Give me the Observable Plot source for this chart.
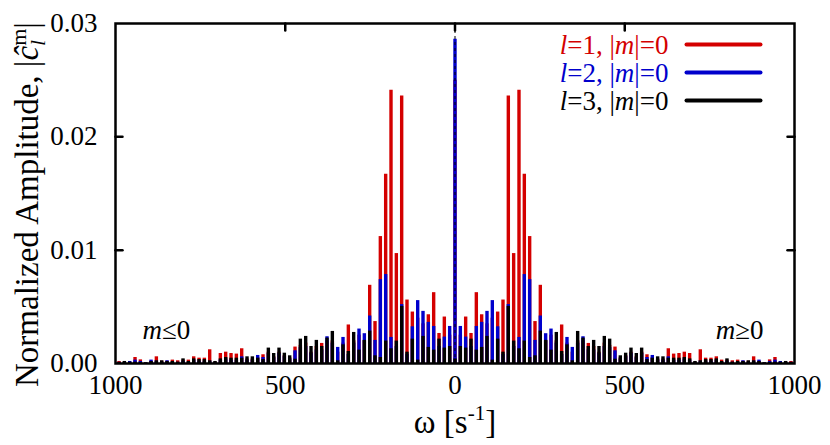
<!DOCTYPE html>
<html><head><meta charset="utf-8">
<script src="https://cdn.jsdelivr.net/npm/d3@7"></script>
<script src="https://cdn.jsdelivr.net/npm/@observablehq/plot@0.6"></script>
<style>body{margin:0;background:#fff;}</style>
</head><body><div id="chart"></div>
<script>
// frequency spacing of the modes: 2π × 2.5 Hz
const omegaStep = 15.708;
// values for m = 0 .. 63 (m >= 0 side)
const l1_pos = [0.025,0.0025,0.0041,0.00265,0.00625,0.0043,0.0035,0.004,0.00454,0.0056,0.0236,0.0097,0.0241,0.0167,0.0112,0.0037,0.0069,0.002,0.0025,0.002,0.0034,0.0018,0.001,0.002,0.002,0.00177,0.0015,0.001,0.0018,0.0016,0.00145,0.0005,0.0007,0.001,0.0006,0.001,0.00077,0.0005,0.0004,0.0004,0.0013,0.00083,0.00088,0.001,0.00088,0.00012,0.00121,0.00047,0.00047,0.00059,0.0003,0.0003,0.00024,0.0003,0.0002,0.0002,0.00059,0.0002,0.00005,0.00032,0.00053,0.0001,0.0001,0.00018];
const l2_pos = [0.0286,0.00327,0.00233,0.0015,0.00327,0.00363,0.0046,0.00555,0.00324,0.0008,0.0052,0.0015,0.0023,0.00785,0.0074,0.00204,0.00419,0.00263,0.00304,0.0018,0.0008,0.0023,0.00142,0.0018,0.00236,0.0012,0.0012,0.0009,0.0015,0.0014,0.00112,0.0004,0.0006,0.0009,0.0005,0.0009,0.00053,0.00071,0.0003,0.0003,0.00059,0.0003,0.0003,0.0004,0.0003,0.0001,0.0002,0.0002,0.0002,0.0003,0.0001,0.0002,0.0001,0.0001,0.00024,0.0001,0.0002,0.0003,0.00004,0.00018,0.0003,0.00018,0.0001,0.0001];
const l3_pos = [0.0004,0.0015,0.00136,0.00215,0.00118,0.00142,0.00239,0.0003,0.00215,0.001,0.00504,0.00198,0.0013,0.00198,0.00053,0.00068,0.00286,0.00204,0.00118,0.00274,0.00106,0.00165,0.00024,0.00283,0.00224,0.0015,0.00204,0.0015,0.00239,0.00215,0.00038,0.00068,0.00091,0.00136,0.00088,0.00136,0.00035,0.00047,0.00059,0.00059,0.00047,0.00047,0.00047,0.00053,0.00041,0.00018,0.00024,0.00035,0.00035,0.00041,0.00018,0.00041,0.00012,0.00018,0.00018,0.00024,0.00024,0.00018,0.00006,0.0001,0.00012,0.00012,0.00018,0.0001];
// values for m = -1 .. -63 (m <= 0 side), listed by increasing |m|
const l1_neg = [0.0025,0.0041,0.00265,0.00625,0.0043,0.0035,0.004,0.00454,0.0056,0.0236,0.0097,0.0241,0.0167,0.0112,0.0037,0.0069,0.002,0.0025,0.002,0.0034,0.0018,0.001,0.002,0.002,0.00177,0.0015,0.001,0.0018,0.0016,0.00145,0.0005,0.0007,0.001,0.0006,0.001,0.00077,0.0005,0.0004,0.0004,0.0013,0.00083,0.00088,0.001,0.00088,0.00012,0.00121,0.00047,0.00047,0.00059,0.0003,0.0003,0.00024,0.0003,0.0002,0.0002,0.00059,0.0002,0.00005,0.00032,0.00053,0.0001,0.0001,0.00018];
const l2_neg = [0.00327,0.00233,0.0015,0.00327,0.00363,0.0046,0.00555,0.00324,0.0008,0.0052,0.0015,0.0023,0.00785,0.0074,0.00204,0.00419,0.00263,0.00304,0.0018,0.0008,0.0023,0.00142,0.0018,0.00236,0.0012,0.0012,0.0009,0.0015,0.0014,0.00112,0.0004,0.0006,0.0009,0.0005,0.0009,0.00053,0.00071,0.0003,0.0003,0.00059,0.0003,0.0003,0.0004,0.0003,0.0001,0.0002,0.0002,0.0002,0.0003,0.0001,0.0002,0.0001,0.0001,0.00024,0.0001,0.0002,0.0003,0.00004,0.00018,0.0003,0.00018,0.0001,0.0001];
const l3_neg = [0.0015,0.00136,0.00215,0.00118,0.00142,0.00239,0.0003,0.00215,0.001,0.00504,0.00198,0.0013,0.00198,0.00053,0.00068,0.00286,0.00204,0.00118,0.00274,0.00106,0.00165,0.00024,0.00283,0.00224,0.0015,0.00204,0.0015,0.00239,0.00215,0.00038,0.00068,0.00091,0.00136,0.00088,0.00136,0.00035,0.00047,0.00059,0.00059,0.00047,0.00047,0.00047,0.00053,0.00041,0.00018,0.00024,0.00035,0.00035,0.00041,0.00018,0.00041,0.00012,0.00018,0.00018,0.00024,0.00024,0.00018,0.00006,0.0001,0.00012,0.00012,0.00018,0.0001];

const seriesNames = ["l=1, |m|=0", "l=2, |m|=0", "l=3, |m|=0"];
const seriesColors = ["#d40000", "#0000cc", "#000000"];
const xTicks = [-1000, -500, 0, 500, 1000];
const xTickLabels = ["1000", "500", "0", "500", "1000"];
const xInnerTicks = [-500, 0, 500];
const yTicks = [0, 0.01, 0.02, 0.03];
const yTickLabels = ["0.00", "0.01", "0.02", "0.03"];
const yInnerTicks = [0.01, 0.02];

function rowsOf(pos, neg) {
  const rows = [];
  pos.forEach((v, i) => rows.push({m: i, omega: i * omegaStep, v}));
  neg.forEach((v, i) => rows.push({m: -(i + 1), omega: -(i + 1) * omegaStep, v}));
  return rows;
}
const data = [rowsOf(l1_pos, l1_neg), rowsOf(l2_pos, l2_neg), rowsOf(l3_pos, l3_neg)];

const font = "'Liberation Serif', 'Times New Roman', serif";
const hline = {draw(context, l) { context.moveTo(0, 0); context.lineTo(0, -l); }};
const tickOpts = {length: 7, anchor: "start", shape: hline, stroke: "black", strokeWidth: 2.5};

const legendMarks = seriesNames.flatMap((name, i) => [
  Plot.text([name], {frameAnchor: "top-right", dx: -126, dy: 22 + 28 * i, text: d => d,
    textAnchor: "end", lineAnchor: "middle", fill: seriesColors[i], fontSize: 27, fontFamily: font}),
  Plot.vector([0], {frameAnchor: "top-right", dx: -34, dy: 21 + 28 * i, length: 74, rotate: -90,
    anchor: "start", shape: hline, stroke: seriesColors[i], strokeWidth: 4})
]);

const plot = Plot.plot({
  width: 830, height: 445,
  marginLeft: 115, marginRight: 36, marginTop: 23, marginBottom: 82,
  x: {domain: [-1000, 1000], label: null},
  y: {domain: [0, 0.03], label: null},
  style: {fontFamily: font, background: "white", color: "black"},
  marks: [
    ...data.map((rows, i) => Plot.ruleX(rows, {x: "omega", y1: 0, y2: "v", stroke: seriesColors[i], strokeWidth: 3.4})),
    Plot.ruleX([0], {y1: 0, y2: 0.03, stroke: "black", strokeWidth: 1, strokeDasharray: "3,3"}),
    Plot.axisX({anchor: "bottom", ticks: xTicks, tickSize: 0, tickPadding: 11, fontSize: 27,
      tickFormat: d => xTickLabels[xTicks.indexOf(d)], label: null}),
    Plot.axisY({anchor: "left", ticks: yTicks, tickSize: 0, tickPadding: 18, fontSize: 27,
      tickFormat: d => yTickLabels[yTicks.indexOf(d)], label: null}),
    // inward ticks on top, left and right edges
    Plot.vector(xInnerTicks, {x: d => d, frameAnchor: "top", rotate: 180, ...tickOpts}),
    Plot.vector(yInnerTicks, {y: d => d, frameAnchor: "left", rotate: 90, ...tickOpts}),
    Plot.vector(yInnerTicks, {y: d => d, frameAnchor: "right", rotate: -90, ...tickOpts}),
    Plot.frame({stroke: "black", strokeWidth: 2.5}),
    ...legendMarks,
    Plot.text(["m≤0"], {frameAnchor: "bottom-left", dx: 27, dy: -25, text: d => d, textAnchor: "start", lineAnchor: "bottom", fontSize: 27, fontFamily: font}),
    Plot.text(["m≥0"], {frameAnchor: "bottom-right", dx: -31, dy: -25, text: d => d, textAnchor: "end", lineAnchor: "bottom", fontSize: 27, fontFamily: font}),
    Plot.text(["ω [s-1]"], {frameAnchor: "bottom", dy: 69, text: d => d, textAnchor: "middle", lineAnchor: "bottom", fontSize: 33, fontFamily: font}),
    Plot.text(["Normalized Amplitude, |c|"], {frameAnchor: "left", dx: -88, dy: 11, rotate: -90, text: d => d, textAnchor: "middle", lineAnchor: "middle", fontSize: 33, fontFamily: font})
  ]
});

document.getElementById("chart").appendChild(plot);

// rich text (italics, sub/superscripts)
const rich = {
  "l=1, |m|=0": '<tspan font-style="italic">l</tspan>=1, |<tspan font-style="italic">m</tspan>|=0',
  "l=2, |m|=0": '<tspan font-style="italic">l</tspan>=2, |<tspan font-style="italic">m</tspan>|=0',
  "l=3, |m|=0": '<tspan font-style="italic">l</tspan>=3, |<tspan font-style="italic">m</tspan>|=0',
  "m≤0": '<tspan font-style="italic">m</tspan>≤0',
  "m≥0": '<tspan font-style="italic">m</tspan>≥0',
  "ω [s-1]": 'ω [s<tspan font-size="21" dy="-13">-1</tspan><tspan dy="13">]</tspan>',
  "Normalized Amplitude, |c|": 'Normalized Amplitude, |<tspan font-style="italic">ĉ</tspan><tspan font-style="italic" font-size="22" dy="7">l</tspan><tspan font-size="22" dx="-6" dy="-19">m</tspan><tspan dy="12">|</tspan>'
};
d3.select(plot).selectAll("text").each(function() {
  const t = this.textContent;
  if (rich[t]) this.innerHTML = rich[t];
});
</script>
</body></html>
